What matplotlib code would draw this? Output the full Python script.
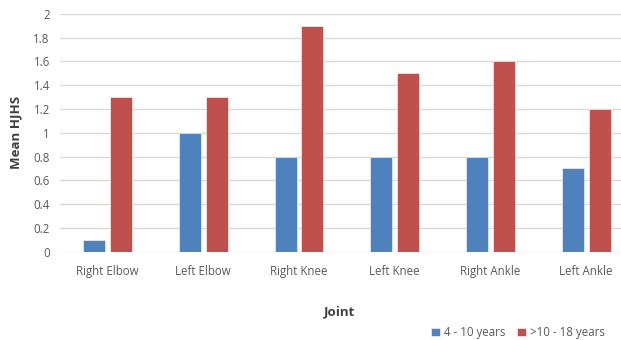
import matplotlib.pyplot as plt
import numpy as np

plt.rcParams['font.family'] = ['Open Sans', 'DejaVu Sans']

joints = ["Right Elbow", "Left Elbow", "Right Knee", "Left Knee", "Right Ankle", "Left Ankle"]
young = [0.1, 1.0, 0.8, 0.8, 0.8, 0.7]
old = [1.3, 1.3, 1.9, 1.5, 1.6, 1.2]
yticks = [0, 0.2, 0.4, 0.6, 0.8, 1, 1.2, 1.4, 1.6, 1.8, 2]
ytick_labels = ["0", "0.2", "0.4", "0.6", "0.8", "1", "1.2", "1.4", "1.6", "1.8", "2"]

fig = plt.figure(figsize=(6.21, 3.40), dpi=100)
# axes runs a bit past the right edge, like the source image (cropped)
ax = fig.add_axes([0.096, 0.26, 0.925, 0.699])

x = np.arange(len(joints))
w = 0.23
ax.bar(x - 0.14, young, w, color="#4F81BD", edgecolor="white", linewidth=0.4,
       label="4 - 10 years", zorder=3)
ax.bar(x + 0.14, old, w, color="#C0504D", edgecolor="white", linewidth=0.4,
       label=">10 - 18 years", zorder=3)

ax.set_xlim(-0.5, len(joints) - 0.5)
ax.set_ylim(0, 2)
ax.set_yticks(yticks)
ax.set_yticklabels(ytick_labels)
ax.set_xticks(x)
ax.set_xticklabels(joints)
ax.yaxis.grid(True, color="#D9D9D9", linewidth=1, zorder=0)
ax.set_axisbelow(True)
for s in ax.spines.values():
    s.set_visible(False)
ax.tick_params(length=0, labelsize=8.3, colors="#595959")
ax.tick_params(axis="x", pad=10)
ax.tick_params(axis="y", pad=7)

ax.set_ylabel("Mean HJHS", fontsize=9.5, fontweight="bold", color="#404040", labelpad=8)
fig.text(0.547, 0.082, "Joint", fontsize=9.5, fontweight="bold", color="#404040",
         ha="center", va="center")

fig.legend(loc="center right", bbox_to_anchor=(0.99, 0.022), ncol=2, frameon=False,
           fontsize=8.3, handlelength=0.8, handleheight=0.8, handletextpad=0.3,
           columnspacing=1.0, labelcolor="#595959")

fig.savefig("out.png", dpi=100)
